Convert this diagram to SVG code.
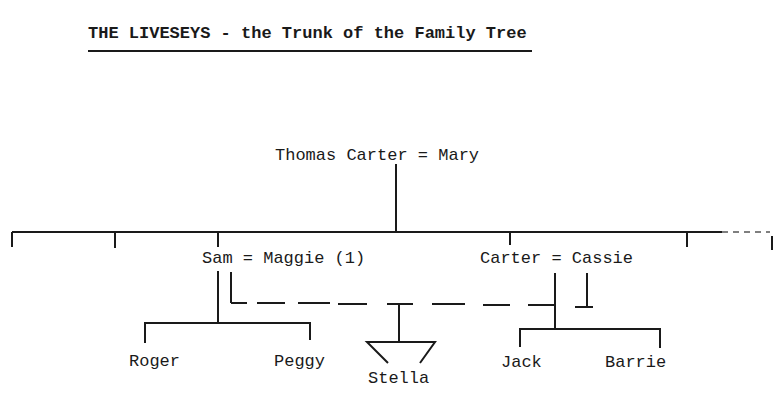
<svg xmlns="http://www.w3.org/2000/svg" width="779" height="400" viewBox="0 0 779 400">
<style>
text{font-family:"Liberation Mono","Courier New",monospace;font-size:17px;fill:#1a1a1a}
.t{font-weight:bold}
.l{stroke:#1a1a1a;stroke-width:2;fill:none}
.d{stroke:#1a1a1a;stroke-width:2;fill:none;stroke-dasharray:28 12}
.f{stroke:#555;stroke-width:1.5;fill:none;stroke-dasharray:6 5}
</style>
<rect width="779" height="400" fill="#fff"/>
<g id="title">
<text class="t" x="88" y="38">THE LIVESEYS - the Trunk of the Family Tree</text>
<line class="l" x1="88" y1="51" x2="532" y2="51" stroke-width="1.5"/>
</g>
<g id="connectors">
<line class="l" x1="396" y1="164" x2="396" y2="232"/>
<line class="l" x1="12" y1="232" x2="722" y2="232"/>
<line class="f" x1="722" y1="232" x2="770" y2="232"/>
<line class="l" x1="12" y1="232" x2="12" y2="247"/>
<line class="l" x1="115" y1="232" x2="115" y2="248"/>
<line class="l" x1="218" y1="232" x2="218" y2="247"/>
<line class="l" x1="510" y1="232" x2="510" y2="245"/>
<line class="l" x1="687" y1="232" x2="687" y2="247"/>
<line class="l" x1="772" y1="236" x2="772" y2="250"/>
<line class="l" x1="218" y1="271" x2="218" y2="323"/>
<polyline class="l" points="145,343 145,323 310,323 310,340"/>
<line class="l" x1="231" y1="272" x2="231" y2="303"/>
<polyline class="l" points="231,303 247,303"/>
<path class="l" d="M257 303H285M298 303H330M338 304H367M387 304H413M432 304H465M483 305H510M528 305H554"/>
<line class="l" x1="399" y1="304" x2="399" y2="342"/>
<polyline class="l" points="388,363 367,342 435,342 420,363"/>
<line class="l" x1="555" y1="273" x2="555" y2="329"/>
<polyline class="l" points="520,347 520,329 660,329 660,348"/>
<line class="l" x1="587" y1="273" x2="587" y2="307"/>
<line class="l" x1="575" y1="307" x2="593" y2="307"/>
</g>
<g id="thomas"><text x="275" y="160">Thomas Carter = Mary</text></g>
<g id="sam"><text x="202" y="263">Sam = Maggie (1)</text></g>
<g id="carter"><text x="480" y="263">Carter = Cassie</text></g>
<g id="roger"><text x="129" y="366">Roger</text></g>
<g id="peggy"><text x="274" y="366">Peggy</text></g>
<g id="stella"><text x="368" y="383">Stella</text></g>
<g id="jack"><text x="501" y="367">Jack</text></g>
<g id="barrie"><text x="605" y="367">Barrie</text></g>
</svg>
